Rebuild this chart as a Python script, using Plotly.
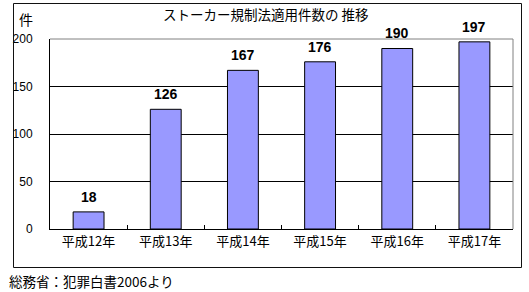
import plotly.graph_objects as go

categories = ["平成12年", "平成13年", "平成14年", "平成15年", "平成16年", "平成17年"]
values = [18, 126, 167, 176, 190, 197]
y_ticks = [0, 50, 100, 150, 200]
title_text = "ストーカー規制法適用件数の 推移"
unit_text = "件"
source_text = "総務省：犯罪白書2006より"

W, H = 529, 292
# plot area in pixels
PX0, PX1, PY0, PY1 = 50, 513, 39, 229
# outer frame in pixels (line centres)
FX0, FX1, FY0, FY1 = 13.5, 521.5, 3.5, 267.5

def px(x):
    return x / W

def py(y):
    return (H - y) / H

FONT = "Liberation Sans, Noto Sans CJK JP, sans-serif"
JFONT = "Noto Sans CJK JP, sans-serif"

fig = go.Figure()
fig.add_trace(go.Bar(
    x=categories, y=values, width=0.4,
    marker=dict(color="#9999FF", line=dict(color="black", width=1)),
    hoverinfo="skip",
))

for c, v in zip(categories, values):
    fig.add_annotation(x=c, y=v, text=f"<b>{v}</b>", showarrow=False,
                       yanchor="bottom", yshift=5,
                       font=dict(family="Liberation Sans, Arial, sans-serif", size=14, color="black"))

fig.update_layout(
    width=W, height=H,
    margin=dict(l=0, r=0, t=0, b=0, autoexpand=False),
    paper_bgcolor="white", plot_bgcolor="white",
    showlegend=False,
    font=dict(family=FONT, color="black"),
    xaxis=dict(
        domain=[px(PX0), px(PX1)],
        showline=True, linecolor="black", linewidth=1,
        ticks="inside", tickson="boundaries", ticklen=4, tickcolor="black",
        tickfont=dict(family=JFONT, size=13),
        showgrid=False, fixedrange=True,
    ),
    yaxis=dict(
        domain=[py(PY1), py(PY0)],
        range=[0, 200], tickvals=y_ticks,
        showline=True, linecolor="black", linewidth=1,
        showgrid=True, gridcolor="black", gridwidth=1,
        zeroline=False, ticks="", ticklabelstandoff=14,
        tickfont=dict(family=FONT, size=12),
        fixedrange=True,
    ),
    shapes=[
        # top and right plot borders in gray
        dict(type="line", xref="paper", yref="paper", x0=px(PX0), x1=px(PX1), y0=py(PY0), y1=py(PY0),
             line=dict(color="#808080", width=1), layer="above"),
        dict(type="line", xref="paper", yref="paper", x0=px(PX1), x1=px(PX1), y0=py(PY1), y1=py(PY0),
             line=dict(color="#808080", width=1), layer="above"),
        # outer frame, drawn as four separate lines
        dict(type="line", xref="paper", yref="paper", x0=px(FX0), x1=px(FX1), y0=py(FY0), y1=py(FY0),
             line=dict(color="#111111", width=1), layer="above"),
        dict(type="line", xref="paper", yref="paper", x0=px(FX0), x1=px(FX1), y0=py(FY1), y1=py(FY1),
             line=dict(color="#111111", width=1), layer="above"),
        dict(type="line", xref="paper", yref="paper", x0=px(FX0), x1=px(FX0), y0=py(FY1), y1=py(FY0),
             line=dict(color="#111111", width=1), layer="above"),
        dict(type="line", xref="paper", yref="paper", x0=px(FX1), x1=px(FX1), y0=py(FY1), y1=py(FY0),
             line=dict(color="#111111", width=1), layer="above"),
    ],
)

fig.add_annotation(xref="paper", yref="paper", x=px(265.5), y=py(14),
                   text=title_text, showarrow=False, xanchor="center", yanchor="middle",
                   font=dict(family=JFONT, size=13.5, color="black"))
fig.add_annotation(xref="paper", yref="paper", x=px(17), y=py(19),
                   text=unit_text, showarrow=False, xanchor="left", yanchor="middle",
                   font=dict(family=JFONT, size=14, color="black"))
fig.add_annotation(xref="paper", yref="paper", x=px(7), y=py(281),
                   text=source_text, showarrow=False, xanchor="left", yanchor="middle",
                   font=dict(family=JFONT, size=13.5, color="black"))

fig.write_html("out.html")
